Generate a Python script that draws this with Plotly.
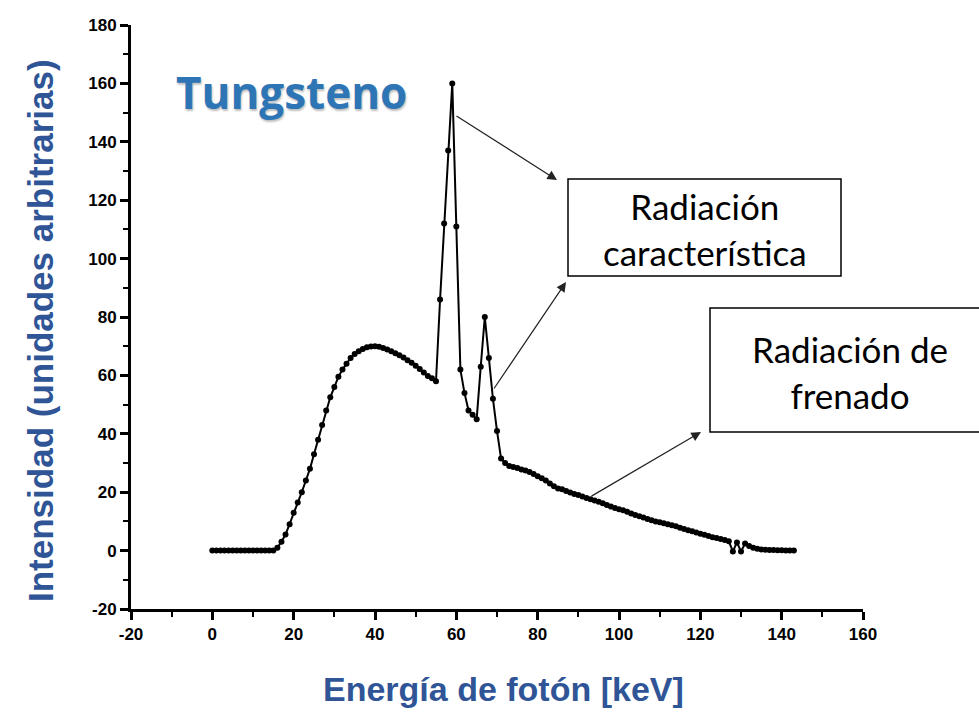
import plotly.graph_objects as go

# ---- data ----
energy_kev = list(range(0, 144))
intensity = [
    0, 0, 0, 0, 0, 0, 0, 0, 0, 0,            # 0-9
    0, 0, 0, 0, 0, 0, 1, 3, 5.5, 9,          # 10-19
    13, 16.5, 20, 24, 28, 33, 38, 43, 48, 52.5,   # 20-29
    56, 59.5, 62, 64, 66, 67.3, 68.3, 69, 69.6, 69.9,  # 30-39
    70, 69.8, 69.4, 68.9, 68.3, 67.6, 66.9, 66.1, 65.2, 64.3,  # 40-49
    63.3, 62.2, 61, 59.8, 59, 58, 86, 112, 137, 160,  # 50-59
    111, 62, 54, 48, 46.5, 45, 63, 80, 66, 52,  # 60-69
    41, 31.5, 30, 29, 28.6, 28.3, 27.8, 27.4, 26.9, 26.2,  # 70-79
    25.5, 24.8, 24, 23, 22, 21.3, 21, 20.4, 19.9, 19.4,  # 80-89
    19, 18.5, 18, 17.6, 17.2, 16.7, 16.2, 15.6, 15.1, 14.6,  # 90-99
    14.2, 13.8, 13.3, 12.7, 12.2, 11.8, 11.3, 10.8, 10.4, 10,  # 100-109
    9.7, 9.4, 9.0, 8.7, 8.3, 7.8, 7.4, 7.0, 6.6, 6.2,  # 110-119
    5.8, 5.4, 5.0, 4.6, 4.3, 4.0, 3.6, 3.2, -0.3, 2.8,  # 120-129
    -0.3, 2.4, 1.6, 1.0, 0.6, 0.4, 0.3, 0.2, 0.2, 0.1,  # 130-139
    0.1, 0, 0, 0,                             # 140-143
]
x_tick_vals = [-20, 0, 20, 40, 60, 80, 100, 120, 140, 160]
x_tick_text = ["-20", "0", "20", "40", "60", "80", "100", "120", "140", "160"]
y_tick_vals = [-20, 0, 20, 40, 60, 80, 100, 120, 140, 160, 180]
y_tick_text = ["-20", "0", "20", "40", "60", "80", "100", "120", "140", "160", "180"]

title_text = "Tungsteno"
x_title = "Energía de fotón [keV]"
y_title = "Intensidad (unidades arbitrarias)"
box1_text = "Radiación<br>característica"
box2_text = "Radiación de<br>frenado"

# ---- layout geometry (pixels) ----
W, H = 979, 713
L, R, T, B = 131, 116, 25, 104
PW, PH = W - L - R, H - T - B


def px(x):
    return (x - L) / PW


def py(y):
    return (H - B - y) / PH


fig = go.Figure()
fig.add_trace(go.Scatter(
    x=energy_kev, y=intensity, mode="lines+markers",
    line=dict(color="black", width=2),
    marker=dict(color="black", size=6),
    showlegend=False, cliponaxis=False,
))

axis_common = dict(
    showline=True, linecolor="black", linewidth=3,
    ticks="outside", ticklen=8, tickwidth=3, tickcolor="black",
    showgrid=False, zeroline=False, mirror=False,
    tickfont=dict(family="Liberation Sans, Arial", size=17, color="black"),
    minor=dict(ticks="outside", ticklen=5, tickwidth=2, tickcolor="black", dtick=10),
)

fig.update_xaxes(range=[-20, 160], tickvals=x_tick_vals,
                 ticktext=["<b>%s</b>" % t for t in x_tick_text], **axis_common)
fig.update_yaxes(range=[-20, 180], tickvals=y_tick_vals,
                 ticktext=["<b>%s</b>" % t for t in y_tick_text], **axis_common)

blue = "#2F5597"
annotations = [
    dict(text="<b>%s</b>" % x_title, x=px(504), y=py(689), xref="paper", yref="paper",
         showarrow=False, xanchor="center", yanchor="middle",
         font=dict(family="Liberation Sans, Arial", size=34, color=blue)),
    dict(text="<b>%s</b>" % y_title, x=px(40), y=py(331), xref="paper", yref="paper",
         showarrow=False, xanchor="center", yanchor="middle", textangle=-90,
         font=dict(family="Liberation Sans, Arial", size=35, color=blue)),
    dict(text="<b>%s</b>" % title_text, x=px(291), y=py(92), xref="paper", yref="paper",
         showarrow=False, xanchor="center", yanchor="middle",
         font=dict(family="Open Sans, Lato", size=44, color="#2E75B6",
                   shadow="1px 2px 2px rgba(0,0,0,0.25)")),
    dict(text=box1_text, x=px(705), y=py(229), xref="paper", yref="paper",
         showarrow=False, xanchor="center", yanchor="middle",
         font=dict(family="Lato, Open Sans", size=35, color="black"), align="center"),
    dict(text=box2_text, x=px(850), y=py(372), xref="paper", yref="paper",
         showarrow=False, xanchor="center", yanchor="middle",
         font=dict(family="Lato, Open Sans", size=35, color="black"), align="center"),
]

# arrows: (tail_px, tail_py, head_px, head_py)
arrows = [(455, 115, 557, 180), (493, 390, 566, 282), (590, 497, 701, 432)]
for tx, ty, hx, hy in arrows:
    annotations.append(dict(
        x=px(hx), y=py(hy), xref="paper", yref="paper",
        ax=tx - hx, ay=ty - hy, text="", showarrow=True,
        arrowhead=2, arrowsize=1.6, arrowwidth=1.2, arrowcolor="#222222",
    ))

shapes = [
    dict(type="rect", xref="paper", yref="paper", x0=px(568), x1=px(841),
         y0=py(276), y1=py(179), line=dict(color="black", width=1.5), fillcolor="white", layer="below"),
    dict(type="rect", xref="paper", yref="paper", x0=px(710), x1=px(985),
         y0=py(432), y1=py(308), line=dict(color="black", width=1.5), fillcolor="white", layer="below"),
]

fig.update_layout(
    width=W, height=H,
    margin=dict(l=L, r=R, t=T, b=B, autoexpand=False),
    paper_bgcolor="white", plot_bgcolor="white",
    annotations=annotations, shapes=shapes,
)

fig.write_html("out.html")
